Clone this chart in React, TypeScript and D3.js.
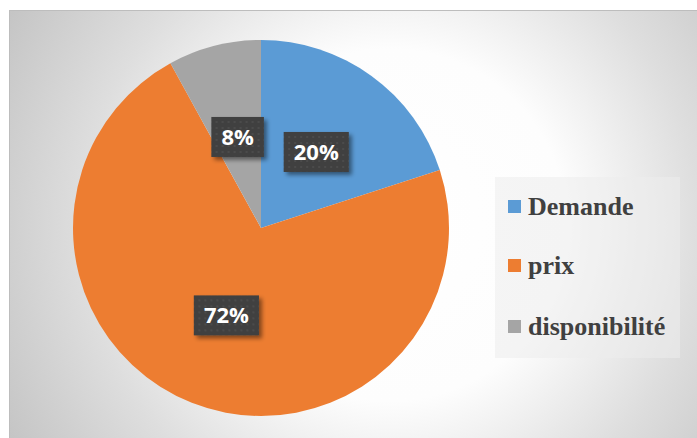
import React, { useEffect, useRef } from "react";
import * as d3 from "d3";

const categories = ["Demande", "prix", "disponibilité"];
const values = [20, 72, 8];
const labels = ["20%", "72%", "8%"];
const colors = ["#5b9bd5", "#ed7d31", "#a5a5a5"];

const W = 697;
const H = 438;

export default function App() {
  const ref = useRef<SVGSVGElement | null>(null);

  useEffect(() => {
    const svg = d3.select(ref.current);
    svg.selectAll("*").remove();

    const defs = svg.append("defs");
    const grad = defs
      .append("radialGradient")
      .attr("id", "bg")
      .attr("gradientUnits", "userSpaceOnUse")
      .attr("cx", 390)
      .attr("cy", 225)
      .attr("r", 440);
    grad.append("stop").attr("offset", 0).attr("stop-color", "#ffffff");
    grad.append("stop").attr("offset", 0.4).attr("stop-color", "#fdfdfd");
    grad.append("stop").attr("offset", 0.7).attr("stop-color", "#dedede");
    grad.append("stop").attr("offset", 1).attr("stop-color", "#c4c4c4");

    const pat = defs
      .append("pattern")
      .attr("id", "dots")
      .attr("patternUnits", "userSpaceOnUse")
      .attr("width", 6)
      .attr("height", 6);
    pat.append("rect").attr("width", 6).attr("height", 6).attr("fill", "#404040");
    pat.append("rect").attr("x", 2).attr("y", 2).attr("width", 2).attr("height", 2).attr("fill", "#4c4c4c");

    const f = defs
      .append("filter")
      .attr("id", "sh")
      .attr("x", "-30%")
      .attr("y", "-30%")
      .attr("width", "170%")
      .attr("height", "170%");
    f.append("feDropShadow")
      .attr("dx", 3)
      .attr("dy", 3)
      .attr("stdDeviation", 2)
      .attr("flood-color", "#000")
      .attr("flood-opacity", 0.45);

    svg
      .append("rect")
      .attr("x", 9.5)
      .attr("y", 10.5)
      .attr("width", W)
      .attr("height", H)
      .attr("fill", "url(#bg)")
      .attr("stroke", "#bdbdbd")
      .attr("stroke-width", 1);

    const cx = 261;
    const cy = 228;
    const r = 188;

    const pie = d3
      .pie<number>()
      .sort(null)
      .value((d) => d);
    const arcs = pie(values);
    const arc = d3.arc<d3.PieArcDatum<number>>().innerRadius(0).outerRadius(r);
    const labelArc = d3
      .arc<d3.PieArcDatum<number>>()
      .innerRadius(r * 0.5)
      .outerRadius(r * 0.5);

    const g = svg.append("g").attr("transform", `translate(${cx},${cy})`);
    g.selectAll("path.slice")
      .data(arcs)
      .enter()
      .append("path")
      .attr("class", "slice")
      .attr("d", arc)
      .attr("fill", (_, i) => colors[i]);

    arcs.forEach((a, i) => {
      const [lx, ly] = labelArc.centroid(a);
      const lg = g.append("g").attr("transform", `translate(${lx},${ly})`);
      const rect = lg.append("rect").attr("fill", "url(#dots)").attr("filter", "url(#sh)");
      const t = lg
        .append("text")
        .attr("text-anchor", "middle")
        .attr("dy", "0.36em")
        .attr("font-family", "'Open Sans', sans-serif")
        .attr("font-weight", "bold")
        .attr("font-size", 22)
        .attr("fill", "#ffffff")
        .text(labels[i]);
      const bb = (t.node() as SVGTextElement).getBBox();
      const bw = bb.width + 20;
      const bh = 40;
      rect.attr("x", -bw / 2).attr("y", -bh / 2).attr("width", bw).attr("height", bh);
    });

    // legend
    const lg = svg.append("g");
    lg.append("rect")
      .attr("x", 495)
      .attr("y", 177)
      .attr("width", 185)
      .attr("height", 181)
      .attr("fill", "#ececec")
      .attr("fill-opacity", 0.55);
    const baselines = [215, 274, 335];
    categories.forEach((c, i) => {
      lg.append("rect")
        .attr("x", 508)
        .attr("y", baselines[i] - 15)
        .attr("width", 13)
        .attr("height", 13)
        .attr("fill", colors[i]);
      lg.append("text")
        .attr("x", 528)
        .attr("y", baselines[i])
        .attr("font-family", "'Liberation Serif', 'Times New Roman', serif")
        .attr("font-weight", "bold")
        .attr("font-size", 26)
        .attr("fill", "#404040")
        .text(c);
    });
  }, []);

  return (
    <svg
      ref={ref}
      width={W}
      height={H}
      style={{ position: "absolute", left: 0, top: 0, display: "block" }}
    />
  );
}
